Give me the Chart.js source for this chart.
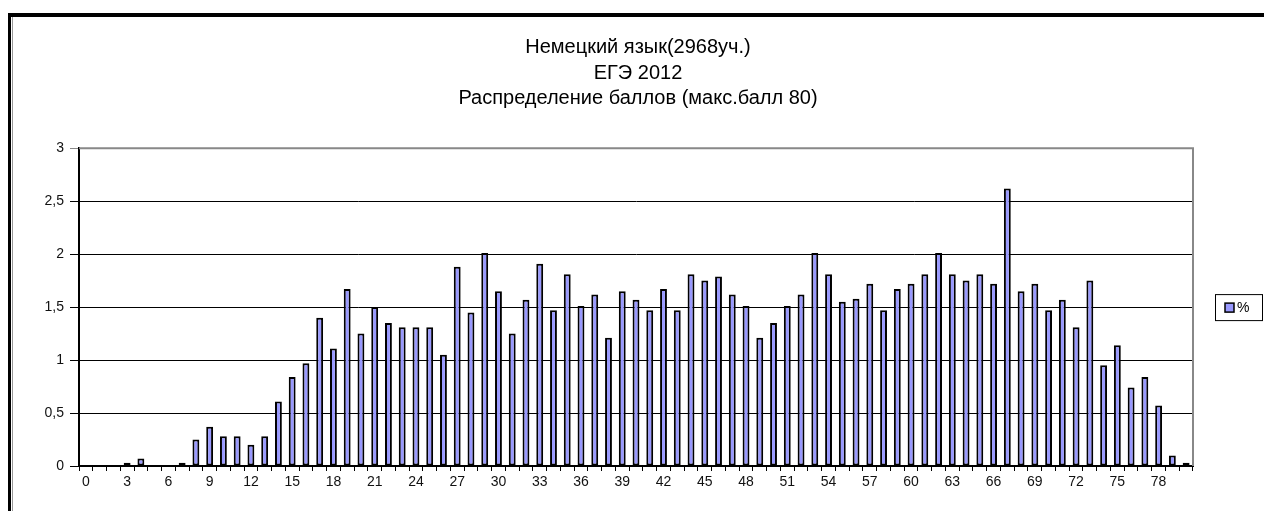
<!DOCTYPE html>
<html>
<head>
<meta charset="utf-8">
<script src="https://cdn.jsdelivr.net/npm/chart.js@4.4.0/dist/chart.umd.min.js"></script>
<style>
  body { margin: 0; background: #fff; }
  canvas { display: block; }
</style>
</head>
<body>
<canvas id="myChart" width="1264" height="511"></canvas>
<script>
// scores 0..80
var categories = ['0','1','2','3','4','5','6','7','8','9','10','11','12','13','14','15','16','17','18','19','20',
  '21','22','23','24','25','26','27','28','29','30','31','32','33','34','35','36','37','38','39','40',
  '41','42','43','44','45','46','47','48','49','50','51','52','53','54','55','56','57','58','59','60',
  '61','62','63','64','65','66','67','68','69','70','71','72','73','74','75','76','77','78','79','80'];

// share of participants, %
var percents = [0, 0, 0, 0.03, 0.07, 0, 0, 0.03, 0.25, 0.37, 0.28,
  0.28, 0.20, 0.28, 0.61, 0.84, 0.97, 1.40, 1.11, 1.67, 1.25,
  1.50, 1.35, 1.31, 1.31, 1.31, 1.05, 1.88, 1.45, 2.01, 1.65,
  1.25, 1.57, 1.91, 1.47, 1.81, 1.51, 1.62, 1.21, 1.65, 1.57,
  1.47, 1.67, 1.47, 1.81, 1.75, 1.79, 1.62, 1.51, 1.21, 1.35,
  1.51, 1.62, 2.01, 1.81, 1.55, 1.58, 1.72, 1.47, 1.67, 1.72,
  1.81, 2.01, 1.81, 1.75, 1.81, 1.72, 2.62, 1.65, 1.72, 1.47,
  1.57, 1.31, 1.75, 0.95, 1.14, 0.74, 0.84, 0.57, 0.10, 0.03];

var shownTicks = ['0','3','6','9','12','15','18','21','24','27','30','33','36','39',
  '42','45','48','51','54','57','60','63','66','69','72','75','78'];

var titleLines = ['Немецкий язык(2968уч.)', 'ЕГЭ 2012', 'Распределение баллов (макс.балл 80)'];

var barColor = '#9999FF';
var font = '"Liberation Sans", Arial, sans-serif';

// page frame, plot border and the boxed legend
var extras = {
  id: 'extras',
  beforeDraw: function(chart) {
    var c = chart.ctx;
    c.save();
    c.fillStyle = '#fff';
    c.fillRect(0, 0, chart.width, chart.height);
    c.fillStyle = '#000';
    c.fillRect(8, 13, chart.width - 8, 4);
    c.fillRect(8, 13, 3, chart.height - 13);
    c.fillStyle = '#999';
    c.fillRect(12, 17, 1, chart.height - 17);
    c.restore();
  },
  beforeDatasetsDraw: function(chart) {
    var a = chart.chartArea, c = chart.ctx;
    c.save();
    c.strokeStyle = '#888';
    c.lineWidth = 2;
    c.beginPath();
    c.moveTo(a.left, a.top);
    c.lineTo(a.right, a.top);
    c.lineTo(a.right, a.bottom);
    c.stroke();
    c.restore();
  },
  afterDraw: function(chart) {
    var a = chart.chartArea, c = chart.ctx;
    var x = a.right + 22, y = (a.top + a.bottom) / 2 - 13;
    c.save();
    c.strokeStyle = '#000';
    c.lineWidth = 1;
    c.strokeRect(x + 0.5, y + 0.5, 47, 26);
    c.fillStyle = barColor;
    c.fillRect(x + 10, y + 9, 9, 9);
    c.lineWidth = 1.5;
    c.strokeRect(x + 10, y + 9, 9, 9);
    c.fillStyle = '#000';
    c.font = '14px ' + font;
    c.textBaseline = 'middle';
    c.fillText(chart.data.datasets[0].label, x + 22, y + 14);
    c.restore();
  }
};

var ctx = document.getElementById('myChart').getContext('2d');

var chart1 = new Chart(ctx, {
  type: 'bar',
  data: {
    labels: categories,
    datasets: [{
      label: '%',
      data: percents,
      backgroundColor: barColor,
      borderColor: '#000',
      borderWidth: 2,
      borderSkipped: false,
      barPercentage: 0.5,
      categoryPercentage: 1
    }]
  },
  options: {
    responsive: false,
    animation: false,
    layout: {
      padding: { left: 12, top: 35, right: 0, bottom: 0 }
    },
    plugins: {
      legend: { display: false },
      tooltip: { enabled: false },
      title: {
        display: true,
        text: titleLines,
        color: '#000',
        font: { family: font, size: 20, weight: 'normal', lineHeight: 1.27 },
        padding: { top: 0, bottom: 37 }
      }
    },
    scales: {
      x: {
        grid: { drawOnChartArea: false, color: '#000', tickLength: 5, offset: true },
        border: { color: '#000', width: 2 },
        ticks: {
          autoSkip: false,
          maxRotation: 0,
          color: '#111',
          padding: 3,
          font: { family: font, size: 14 },
          callback: function(v, i) {
            var l = categories[i];
            return shownTicks.indexOf(l) >= 0 ? l : '';
          }
        },
        afterFit: function(s) { s.height = 45; }
      },
      y: {
        min: 0,
        max: 3,
        ticks: {
          stepSize: 0.5,
          color: '#111',
          padding: 6,
          font: { family: font, size: 14 },
          callback: function(v) { return String(v).replace('.', ','); }
        },
        grid: {
          tickLength: 9,
          color: function(c) { return c.tick && c.tick.value === 3 ? '#888' : '#000'; }
        },
        border: { color: '#000', width: 2 },
        afterFit: function(s) { s.width = 67; }
      },
      // empty strip on the right that holds the legend box
      side: {
        position: 'right',
        display: true,
        grid: { display: false },
        border: { display: false },
        ticks: { display: false },
        afterFit: function(s) { s.width = 71; }
      }
    }
  },
  plugins: [extras]
});
</script>
</body>
</html>
